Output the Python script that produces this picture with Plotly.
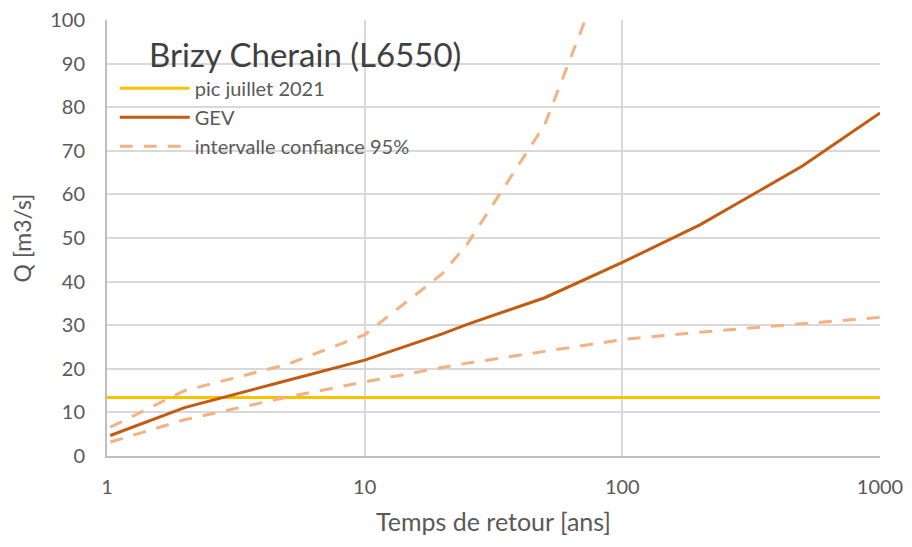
import plotly.graph_objects as go

# return periods (years) and discharges (m3/s)
periods = [1.03, 2, 5, 10, 20, 25, 50, 100, 200, 500, 1000]
gev = [4.7, 11.1, 17.3, 22.0, 28.0, 30.2, 36.3, 44.4, 53.0, 66.5, 78.7]
ci_upper = [6.6, 15.0, 21.0, 27.8, 41.8, 48.6, 76.0, 122.0, None, None, None]
ci_lower = [3.2, 8.3, 13.5, 17.0, 20.3, 21.3, 24.0, 26.7, 28.4, 30.3, 31.8]

peak_x = [1, 1000]
peak_q = [13.4, 13.4]

font_family = "Lato, 'Open Sans', sans-serif"
text_grey = '#595959'

fig = go.Figure()

fig.add_trace(go.Scatter(
    x=peak_x, y=peak_q,
    mode='lines',
    line=dict(color='#FFC000', width=3),
    name='pic juillet 2021'
))

fig.add_trace(go.Scatter(
    x=periods, y=gev,
    mode='lines',
    line=dict(color='#C55A11', width=3),
    name='GEV'
))

fig.add_trace(go.Scatter(
    x=periods, y=ci_upper,
    mode='lines',
    line=dict(color='#F4B183', width=3, dash='13px,11px'),
    name='intervalle confiance 95%',
    legendgroup='ci'
))

fig.add_trace(go.Scatter(
    x=periods, y=ci_lower,
    mode='lines',
    line=dict(color='#F4B183', width=3, dash='13px,11px'),
    name='intervalle confiance 95%',
    legendgroup='ci',
    showlegend=False
))

fig.add_annotation(
    text='Brizy Cherain (L6550)',
    xref='paper', yref='paper',
    x=0.256, y=0.922,
    xanchor='center', yanchor='middle',
    showarrow=False,
    font=dict(family=font_family, size=33, color='#404040')
)

# page body has an 8px margin, so the figure is a bit smaller than the window
fig.update_layout(
    width=904, height=539,
    margin=dict(l=99, r=32, t=12, b=91),
    paper_bgcolor='white',
    plot_bgcolor='white',
    font=dict(family=font_family, color=text_grey),
    showlegend=True,
    legend=dict(
        x=0.01, y=0.888,
        xanchor='left', yanchor='top',
        bgcolor='rgba(0,0,0,0)',
        font=dict(size=20, color=text_grey),
        itemwidth=70,
        tracegroupgap=0
    ),
    xaxis=dict(
        type='log',
        range=[0, 3],
        tickvals=[1, 10, 100, 1000],
        ticktext=['1', '10', '100', '1000'],
        tickfont=dict(size=20, color=text_grey),
        ticklabelstandoff=12,
        ticklabeloverflow='allow',
        showgrid=True, gridcolor='#d9d9d9', gridwidth=1.5,
        showline=True, linecolor='#bfbfbf', linewidth=2,
        zeroline=False, automargin=False,
        title=dict(text='Temps de retour [ans]', font=dict(size=25, color=text_grey), standoff=16)
    ),
    yaxis=dict(
        range=[0, 100],
        tickvals=list(range(0, 101, 10)),
        tickfont=dict(size=20, color=text_grey),
        ticklabelstandoff=16,
        ticklabeloverflow='allow',
        showgrid=True, gridcolor='#d9d9d9', gridwidth=1.5,
        showline=True, linecolor='#bfbfbf', linewidth=2,
        zeroline=False, automargin=False,
        title=dict(text='Q [m3/s]', font=dict(size=23, color=text_grey), standoff=25)
    )
)

fig.write_html("out.html")
